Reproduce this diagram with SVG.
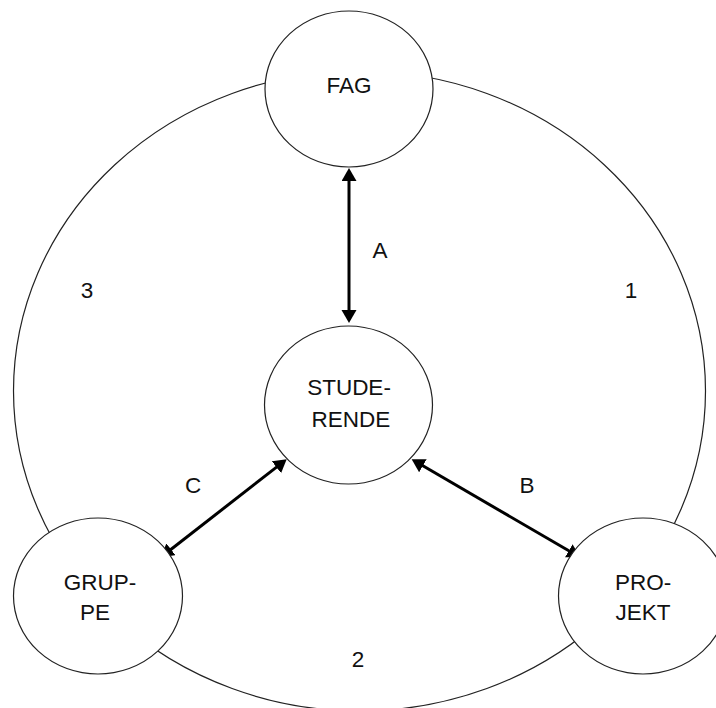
<svg xmlns="http://www.w3.org/2000/svg" width="716" height="708" viewBox="0 0 716 708">
  <style>
    .node { fill: #ffffff; stroke: #222222; stroke-width: 1.2; }
    .ring { fill: none; stroke: #222222; stroke-width: 1.2; }
    .lbl { font-family: "Liberation Sans", Arial, sans-serif; font-size: 22.5px; fill: #111111; text-anchor: middle; }
    .arrow { stroke: #000000; stroke-width: 3; fill: none; marker-start: url(#head); marker-end: url(#head); }
  </style>
  <defs>
    <marker id="head" markerUnits="userSpaceOnUse" markerWidth="14" markerHeight="16" refX="3" refY="7.5" orient="auto-start-reverse" viewBox="0 0 14 16">
      <path d="M0,0 L13,7.5 L0,15 z" fill="#000000"/>
    </marker>
  </defs>
  <rect width="716" height="708" fill="#ffffff"/>

  <g id="ring">
    <ellipse class="ring" cx="359.5" cy="391" rx="346" ry="320"/>
  </g>

  <g id="connectors">
    <line id="conn-A" class="arrow" x1="349" y1="178" x2="349" y2="313"/>
    <line id="conn-C" class="arrow" x1="278.8" y1="465.4" x2="168.6" y2="551.2"/>
    <line id="conn-B" class="arrow" x1="420.3" y1="464.3" x2="571.4" y2="552.3"/>
  </g>

  <g id="node-fag">
    <ellipse class="node" cx="349" cy="89" rx="84" ry="78"/>
    <text class="lbl" x="349" y="93.3">FAG</text>
  </g>

  <g id="node-studerende">
    <ellipse class="node" cx="348.5" cy="405" rx="84" ry="79"/>
    <text class="lbl" x="349" y="395">STUDE-</text>
    <text class="lbl" x="351" y="426.7">RENDE</text>
  </g>

  <g id="node-gruppe">
    <ellipse class="node" cx="98" cy="596" rx="84.5" ry="78"/>
    <text class="lbl" x="100" y="590">GRUP-</text>
    <text class="lbl" x="95" y="620">PE</text>
  </g>

  <g id="node-projekt">
    <ellipse class="node" cx="643" cy="596" rx="84.5" ry="78"/>
    <text class="lbl" x="643" y="590">PRO-</text>
    <text class="lbl" x="643" y="620">JEKT</text>
  </g>

  <g id="labels">
    <text class="lbl" x="380" y="258">A</text>
    <text class="lbl" x="527" y="492.5">B</text>
    <text class="lbl" x="193" y="492.5">C</text>
    <text class="lbl" x="631" y="298">1</text>
    <text class="lbl" x="358" y="666.5">2</text>
    <text class="lbl" x="87" y="298">3</text>
  </g>
</svg>
